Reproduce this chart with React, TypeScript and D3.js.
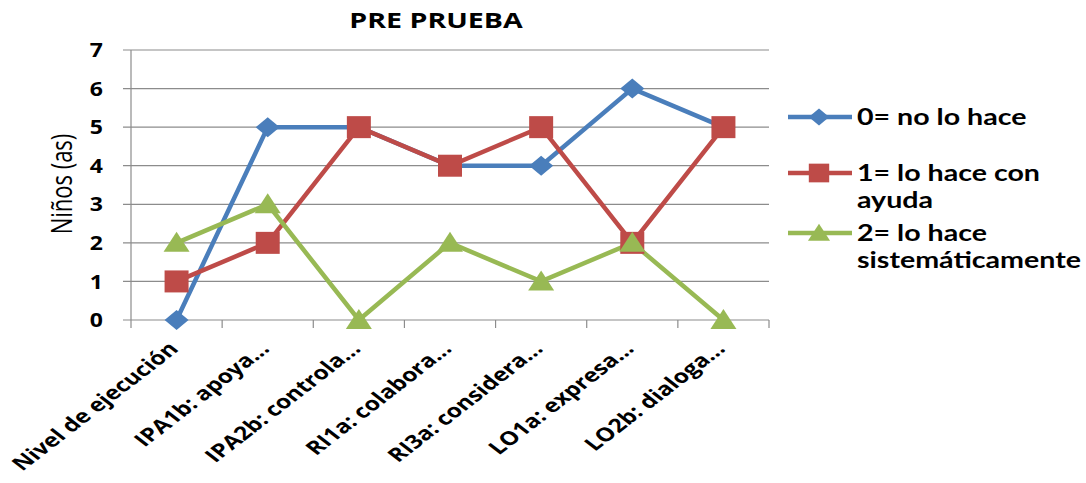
import React, { useEffect, useRef } from "react";
import * as d3 from "d3";

const categories = [
  "Nivel de ejecución",
  "IPA1b: apoya...",
  "IPA2b: controla...",
  "RI1a: colabora...",
  "RI3a: considera...",
  "LO1a: expresa...",
  "LO2b: dialoga...",
];
const noLoHace = [0, 5, 5, 4, 4, 6, 5];
const conAyuda = [1, 2, 5, 4, 5, 2, 5];
const sistematicamente = [2, 3, 0, 2, 1, 2, 0];
const yTicks = [0, 1, 2, 3, 4, 5, 6, 7];

const series = [
  { name: ["0= no lo hace"], values: noLoHace, color: "#4A7EBB", shape: "diamond" },
  { name: ["1= lo hace con", "ayuda"], values: conAyuda, color: "#BE4B48", shape: "square" },
  { name: ["2= lo hace", "sistemáticamente"], values: sistematicamente, color: "#98B954", shape: "triangle" },
];

const FONT = "'Open Sans', 'DejaVu Sans', sans-serif";
const LEGEND_FONT = "Lato, 'Open Sans', sans-serif";
// the original picture is stretched sideways, so text gets a horizontal scale
const STRETCH = 1.29;

function markerPath(shape: string) {
  if (shape === "diamond") return "M0,-10L12,0L0,10L-12,0Z";
  if (shape === "square") return "M-12,-11L12,-11L12,11L-12,11Z";
  return "M0,-11L13,9L-13,9Z";
}

export default function App() {
  const ref = useRef<SVGSVGElement>(null);

  useEffect(() => {
    const svg = d3.select(ref.current);
    svg.selectAll("*").remove();

    const left = 131;
    const right = 769;
    const top = 50;
    const bottom = 320;

    const x = d3.scaleBand().domain(categories).range([left, right]);
    const y = d3.scaleLinear().domain([0, 7]).range([bottom, top]);

    // gridlines
    svg
      .append("g")
      .selectAll("line")
      .data(yTicks)
      .enter()
      .append("line")
      .attr("x1", left - 8)
      .attr("x2", right)
      .attr("y1", (d) => y(d))
      .attr("y2", (d) => y(d))
      .attr("stroke", "#8c8c8c")
      .attr("stroke-width", 1.2);

    // y axis line
    svg
      .append("line")
      .attr("x1", left)
      .attr("x2", left)
      .attr("y1", top)
      .attr("y2", bottom)
      .attr("stroke", "#8c8c8c")
      .attr("stroke-width", 1.2);

    // x ticks
    const bounds = categories.map((c) => x(c) as number).concat([right]);
    svg
      .append("g")
      .selectAll("line")
      .data(bounds)
      .enter()
      .append("line")
      .attr("x1", (d) => d)
      .attr("x2", (d) => d)
      .attr("y1", bottom)
      .attr("y2", bottom + 8)
      .attr("stroke", "#8c8c8c")
      .attr("stroke-width", 1.2);

    // y tick labels
    svg
      .append("g")
      .selectAll("text")
      .data(yTicks)
      .enter()
      .append("text")
      .attr("transform", (d) => "translate(103," + y(d) + ") scale(1.15,1)")
      .attr("dy", "0.36em")
      .attr("text-anchor", "end")
      .attr("font-family", FONT)
      .attr("font-weight", "bold")
      .attr("font-size", "20px")
      .text((d) => d);

    // x labels
    svg
      .append("g")
      .selectAll("text")
      .data(categories)
      .enter()
      .append("text")
      .attr("transform", (d) => {
        const cx = (x(d) as number) + x.bandwidth() / 2 + 3;
        return "translate(" + cx + "," + (bottom + 30) + ") scale(" + STRETCH + ",1) rotate(-45)";
      })
      .attr("text-anchor", "end")
      .attr("font-family", FONT)
      .attr("font-weight", "bold")
      .attr("font-size", "19px")
      .text((d) => d);

    // title
    svg
      .append("text")
      .attr("transform", "translate(436,28) scale(1.36,1)")
      .attr("text-anchor", "middle")
      .attr("font-family", FONT)
      .attr("font-weight", "bold")
      .attr("font-size", "21px")
      .text("PRE PRUEBA");

    // y axis title
    svg
      .append("text")
      .attr("transform", "translate(72,184) scale(" + STRETCH + ",1) rotate(-90)")
      .attr("text-anchor", "middle")
      .attr("font-family", FONT)
      .attr("font-size", "22px")
      .text("Niños (as)");

    const line = d3
      .line<number>()
      .x((d, i) => (x(categories[i]) as number) + x.bandwidth() / 2)
      .y((d) => y(d));

    series.forEach((s) => {
      svg
        .append("path")
        .attr("d", line(s.values))
        .attr("fill", "none")
        .attr("stroke", s.color)
        .attr("stroke-width", 4.5);
    });
    series.forEach((s) => {
      svg
        .append("g")
        .selectAll("path")
        .data(s.values)
        .enter()
        .append("path")
        .attr("transform", (d, i) => {
          return "translate(" + ((x(categories[i]) as number) + x.bandwidth() / 2) + "," + y(d) + ")";
        })
        .attr("d", markerPath(s.shape))
        .attr("fill", s.color);
    });

    // legend
    const legendY = [117, 173, 233];
    series.forEach((s, i) => {
      const g = svg.append("g").attr("transform", "translate(788," + legendY[i] + ")");
      g.append("line")
        .attr("x1", 0)
        .attr("x2", 64)
        .attr("stroke", s.color)
        .attr("stroke-width", 4.5);
      g.append("path")
        .attr("transform", "translate(31,0) scale(0.85)")
        .attr("d", markerPath(s.shape))
        .attr("fill", s.color);
      const txt = g
        .append("text")
        .attr("transform", "translate(69,8) scale(1.3,1)")
        .attr("font-family", LEGEND_FONT)
        .attr("font-weight", "bold")
        .attr("font-size", "22px");
      s.name.forEach((t, j) => {
        txt
          .append("tspan")
          .attr("x", 0)
          .attr("y", j * 27)
          .text(t);
      });
    });
  }, []);

  return (
    <svg
      ref={ref}
      width={1086}
      height={483}
      style={{ position: "absolute", left: 0, top: 0, background: "#fff" }}
    ></svg>
  );
}
